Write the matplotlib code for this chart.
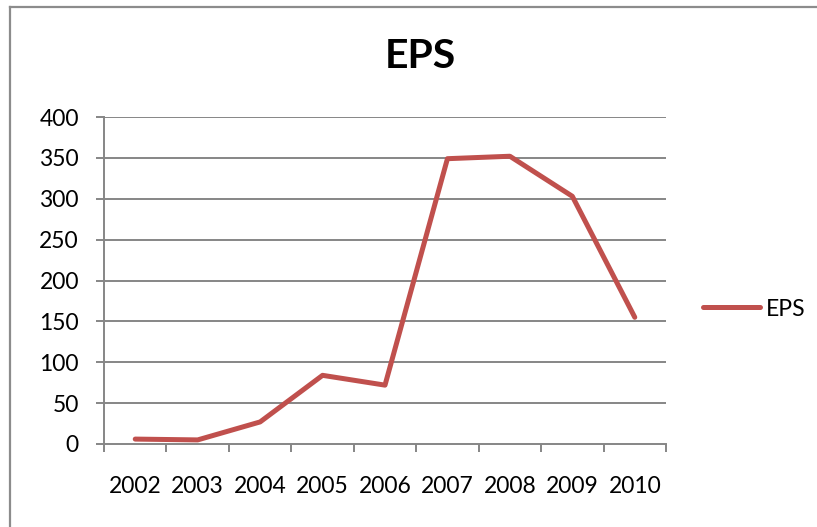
import matplotlib
matplotlib.use("Agg")
import matplotlib.pyplot as plt
from matplotlib.lines import Line2D
import numpy as np

years = ["2002", "2003", "2004", "2005", "2006", "2007", "2008", "2009", "2010"]
eps = [6, 5, 27, 84, 72, 349, 352, 303, 155]
series_name = "EPS"
yticks = [0, 50, 100, 150, 200, 250, 300, 350, 400]

W, H = 817, 527
dpi = 100
plt.rcParams['font.family'] = ['Lato', 'DejaVu Sans']

fig = plt.figure(figsize=(W / dpi, H / dpi), dpi=dpi)
fig.patch.set_facecolor("white")

# outer chart border: only top and left edges are inside the image
border_c = "#8c8c8c"
fig.add_artist(Line2D([9.5 / W, 1.0], [1 - 6.5 / H, 1 - 6.5 / H], transform=fig.transFigure,
                      color=border_c, linewidth=1.6))
fig.add_artist(Line2D([9.5 / W, 9.5 / W], [0, 1 - 6.5 / H], transform=fig.transFigure,
                      color=border_c, linewidth=1.6))

ax = fig.add_axes([104 / W, 1 - 444 / H, (666 - 104) / W, (444 - 117) / H])
grid_c = "#868686"
x = np.arange(len(years)) + 0.5
line, = ax.plot(x, eps, color="#C0504D", linewidth=3.6, solid_capstyle="round",
                solid_joinstyle="round", label=series_name, zorder=3)

fs = 16.5
ax.set_xlim(0, len(years))
ax.set_ylim(0, 400)
ax.set_yticks(yticks)
ax.set_yticklabels([str(v) for v in yticks], fontsize=fs)
for v in yticks[1:]:
    ax.axhline(v, color=grid_c, linewidth=1.4, zorder=1)

ax.set_xticks(np.arange(len(years) + 1))
ax.set_xticklabels([])
ax.set_xticks(x, minor=True)
ax.set_xticklabels(years, minor=True, fontsize=fs)
ax.tick_params(axis="x", which="minor", length=0, pad=23)
ax.tick_params(axis="x", which="major", length=6, width=1.4, color=grid_c, direction="out")
ax.tick_params(axis="y", length=6, width=1.4, color=grid_c, direction="out", pad=12)

for s in ["top", "right"]:
    ax.spines[s].set_visible(False)
for s in ["left", "bottom"]:
    ax.spines[s].set_color(grid_c)
    ax.spines[s].set_linewidth(1.4)

fig.text(420 / W, 1 - 57 / H, "EPS", ha="center", va="center", fontsize=29.5, fontweight="bold")

fig.legend(handles=[line], loc="center left", bbox_to_anchor=(703 / W, 1 - 309 / H),
           frameon=False, fontsize=fs, handlelength=2.5, handletextpad=0.25,
           borderaxespad=0, borderpad=0)

fig.savefig("out.png", dpi=dpi)
